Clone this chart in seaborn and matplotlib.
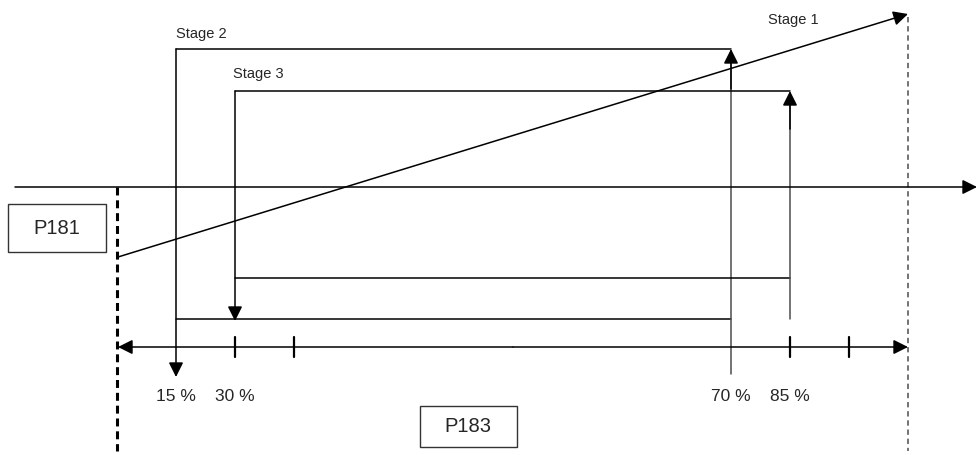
import matplotlib.pyplot as plt
import seaborn as sns
import pandas as pd

# Diagram laid out in pixel space of the original figure
axis_x = [118, 908]          # bottom double arrow axis (0 % .. 100 %)
axis_y = 348
tick_x = [235, 294, 790, 849]
pct_labels = ["15 %", "30 %", "70 %", "85 %"]
pct_x = [176, 235, 731, 790]
stage_names = ["Stage 1", "Stage 2", "Stage 3"]
stage1_start = (118, 258)
stage1_end = (908, 15)
stage2_left, stage2_right, stage2_top, stage2_bottom = 176, 731, 50, 320
stage3_left, stage3_right, stage3_top, stage3_bottom = 235, 790, 92, 279

sns.set_theme(style="white")
plt.rcParams['font.family'] = ['Liberation Sans', 'DejaVu Sans']

fig = plt.figure(figsize=(9.77, 4.56), dpi=100)
ax = fig.add_axes([0, 0, 1, 1])

black = '#000000'
grey = '#4d4d4d'
LW = 1.1


def arrow(x0, y0, x1, y1, color=black):
    ax.annotate('', xy=(x1, y1), xytext=(x0, y0),
                arrowprops=dict(arrowstyle='-|>', color=color, lw=LW,
                                mutation_scale=22, shrinkA=0, shrinkB=0))


def seg(xs, ys, color=black, width=LW, **kw):
    df = pd.DataFrame({'x': xs, 'y': ys})
    sns.lineplot(data=df, x='x', y='y', ax=ax, color=color, linewidth=width,
                 sort=False, estimator=None, **kw)


# top horizontal line with arrow
arrow(15, 188, 977, 188)

# dashed limits
seg([117, 117], [188, 452], width=2.2, linestyle=(0, (2.6, 1.6)))
seg([908, 908], [18, 452], color=grey, linestyle=(0, (3.5, 2.5)))

# stage 1 ramp
arrow(stage1_start[0], stage1_start[1], stage1_end[0], stage1_end[1])

# stage 2 loop
seg([stage2_right, stage2_left], [stage2_bottom, stage2_bottom])
seg([stage2_left, stage2_right], [stage2_top, stage2_top])
arrow(stage2_left, stage2_top, stage2_left, 378)
seg([stage2_right, stage2_right], [375, stage2_top + 5], color=grey)
arrow(stage2_right, 90, stage2_right, stage2_top)

# stage 3 loop
seg([stage3_left, stage3_right], [stage3_top, stage3_top])
seg([stage3_left, stage3_right], [stage3_bottom, stage3_bottom])
arrow(stage3_left, stage3_top, stage3_left, stage2_bottom + 2)
seg([stage3_right, stage3_right], [stage2_bottom, stage3_top + 5], color=grey)
arrow(stage3_right, 130, stage3_right, stage3_top)

# bottom axis with arrows at both ends
arrow((axis_x[0] + axis_x[1]) / 2, axis_y, axis_x[0], axis_y)
arrow((axis_x[0] + axis_x[1]) / 2, axis_y, axis_x[1], axis_y)
for tx in tick_x:
    seg([tx, tx], [axis_y - 10, axis_y + 10], width=1.6)

for lab, px in zip(pct_labels, pct_x):
    ax.text(px, 397, lab, fontsize=12.5, ha='center', va='center')

# stage labels
ax.text(768, 20, stage_names[0], fontsize=10.5, ha='left', va='center')
ax.text(176, 34, stage_names[1], fontsize=10.5, ha='left', va='center')
ax.text(233, 74, stage_names[2], fontsize=10.5, ha='left', va='center')

# boxes
ax.add_patch(plt.Rectangle((8, 205), 98, 48, fill=False, ec='#333333', lw=1))
ax.text(57, 229, "P181", fontsize=14.5, ha='center', va='center')
ax.add_patch(plt.Rectangle((420, 407), 97, 41, fill=False, ec='#333333', lw=1))
ax.text(468, 427, "P183", fontsize=14.5, ha='center', va='center')

ax.set_xlim(0, 977)
ax.set_ylim(456, 0)
ax.axis('off')

plt.savefig('out.png', dpi=100)
